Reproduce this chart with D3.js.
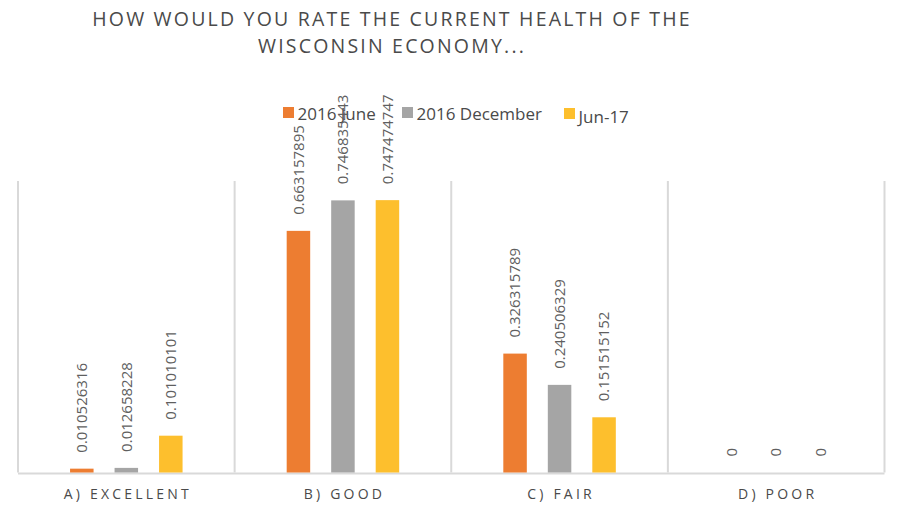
<!DOCTYPE html>
<html><head><meta charset="utf-8">
<script src="https://cdn.jsdelivr.net/npm/d3@7"></script>
<style>body{margin:0;background:#fff}svg{display:block}text{font-family:"Open Sans",sans-serif}</style>
</head><body><svg id="c" width="903" height="508"></svg>
<script>
const titleLines = ["HOW WOULD YOU RATE THE CURRENT HEALTH OF THE", "WISCONSIN ECONOMY..."];
const categories = ["A) EXCELLENT", "B) GOOD", "C) FAIR", "D) POOR"];
const seriesNames = ["2016 June", "2016 December", "Jun-17"];
const june2016 = [0.010526316, 0.663157895, 0.326315789, 0];
const dec2016 = [0.012658228, 0.746835443, 0.240506329, 0];
const jun2017 = [0.101010101, 0.747474747, 0.151515152, 0];
const colors = ["#ED7D31", "#A5A5A5", "#FDBF2D"];
const seriesValues = [june2016, dec2016, jun2017];

const svg = d3.select("#c");
const x0 = d3.scaleBand().domain(categories).range([18, 884.5]).padding(0);
const x1 = d3.scalePoint().domain(seriesNames).range([-44.5, 44.5]);
const y = d3.scaleLinear().domain([0, 0.8]).range([472.5, 181]);
const barW = 23.5;

// title
svg.append("g").selectAll("text").data(titleLines).join("text")
  .attr("x", 392).attr("y", (d, i) => 26 + i * 27)
  .attr("text-anchor", "middle").attr("font-size", 19.5).attr("letter-spacing", 2.2)
  .attr("font-weight", 500).attr("fill", "#4a4a4a").text(d => d);

// vertical separators
const bounds = categories.map(c => x0(c)).concat([x0.range()[1]]);
svg.append("g").selectAll("line").data(bounds).join("line")
  .attr("x1", d => d).attr("x2", d => d).attr("y1", y(0.8)).attr("y2", y(0))
  .attr("stroke", "#d9d9d9").attr("stroke-width", 2);
// baseline
svg.append("line").attr("x1", x0.range()[0]).attr("x2", x0.range()[1])
  .attr("y1", y(0) + 1).attr("y2", y(0) + 1).attr("stroke", "#d9d9d9").attr("stroke-width", 2);

// bars + labels
const data = [];
categories.forEach((c, ci) => seriesNames.forEach((s, si) => data.push({c, s, si, v: seriesValues[si][ci]})));
const cx = d => x0(d.c) + x0.bandwidth() / 2 + x1(d.s);
svg.append("g").selectAll("rect").data(data).join("rect")
  .attr("x", d => cx(d) - barW / 2).attr("width", barW)
  .attr("y", d => y(d.v)).attr("height", d => y(0) - y(d.v))
  .attr("fill", d => colors[d.si]);

// x labels
svg.append("g").selectAll("text").data(categories).join("text")
  .attr("x", d => x0(d) + x0.bandwidth() / 2 + 1.5).attr("y", 499)
  .attr("text-anchor", "middle").attr("font-size", 14).attr("letter-spacing", 3.2)
  .attr("font-weight", 500).attr("fill", "#4a4a4a").text(d => d);

// legend
const legX = [283, 402, 564];
const legY = [107, 107, 108];
const leg = svg.append("g").selectAll("g").data(seriesNames).join("g");
leg.append("rect").attr("x", (d, i) => legX[i]).attr("y", (d, i) => legY[i])
  .attr("width", 11).attr("height", 11).attr("fill", (d, i) => colors[i]);
leg.append("text").attr("x", (d, i) => legX[i] + 14.5).attr("y", (d, i) => i === 2 ? 123 : 120)
  .attr("font-size", 17).attr("fill", "#4a4a4a").text(d => d);

// data labels
svg.append("g").selectAll("text").data(data).join("text")
  .attr("transform", d => `translate(${cx(d)},${y(d.v) - 16}) rotate(-90)`)
  .attr("dy", "0.35em").attr("text-anchor", "start").attr("font-size", 15)
  .attr("fill", "#5f5f5f").text(d => String(d.v));
</script></body></html>
